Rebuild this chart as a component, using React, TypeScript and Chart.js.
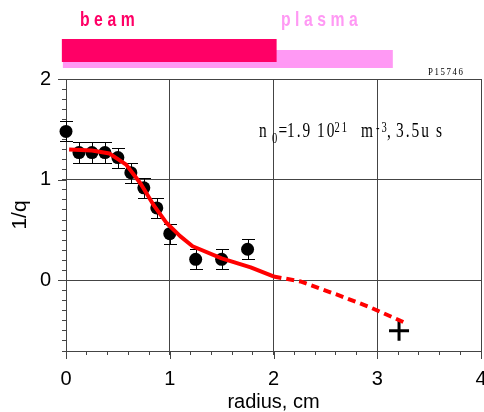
import React, { useEffect, useRef } from 'react';
import { Chart, registerables } from 'chart.js';

Chart.register(...registerables);

// ---- data ----
const radius = [0, 0.125, 0.25, 0.375, 0.5, 0.625, 0.75, 0.875, 1.0, 1.25, 1.5, 1.75];
const invQ = [1.48, 1.27, 1.27, 1.27, 1.22, 1.07, 0.92, 0.72, 0.465, 0.21, 0.21, 0.31];
const invQErr = [0.1, 0.1, 0.1, 0.1, 0.1, 0.1, 0.1, 0.1, 0.1, 0.1, 0.1, 0.1];

const fitX = [0.03, 0.25, 0.42, 0.58, 0.72, 0.85, 0.97, 1.1, 1.22, 1.5, 1.78, 2.0];
const fitY = [1.3, 1.29, 1.26, 1.15, 0.96, 0.74, 0.57, 0.44, 0.34, 0.22, 0.13, 0.04];

const extrapX = [2.0, 2.26, 2.65, 2.94, 3.29];
const extrapY = [0.04, -0.01, -0.155, -0.27, -0.43];

const edgeX = [3.21];
const edgeY = [-0.5];

const beamExtent = [-0.04, 2.03];
const plasmaExtent = [-0.03, 3.15];

const majorX = [0, 1, 2, 3, 4];
const majorY = [0, 1, 2];

const isMajor = (v: number, list: number[]) => list.some((m) => Math.abs(m - v) < 1e-6);

const AXIS = '#444';
const SANS = '"Liberation Sans", Arial, sans-serif';
const SERIF = '"Liberation Serif", "Times New Roman", serif';

function drawSpaced(ctx: CanvasRenderingContext2D, text: string, x: number, y: number, sx: number, spacing: number) {
  for (const ch of text) {
    ctx.save();
    ctx.translate(x, y);
    ctx.scale(sx, 1);
    ctx.fillText(ch, 0, 0);
    ctx.restore();
    x += ctx.measureText(ch).width * sx + spacing;
  }
  return x;
}

const errorBarPlugin = {
  id: 'errorBars',
  beforeDatasetsDraw(chart: any) {
    const meta = chart.getDatasetMeta(2);
    const ys = chart.scales.y;
    const ctx = chart.ctx;
    ctx.save();
    ctx.strokeStyle = '#000';
    ctx.lineWidth = 1;
    meta.data.forEach((el: any, i: number) => {
      const x = Math.round(el.x) + 0.5;
      const yT = Math.round(ys.getPixelForValue(invQ[i] + invQErr[i])) + 0.5;
      const yB = Math.round(ys.getPixelForValue(invQ[i] - invQErr[i])) + 0.5;
      ctx.beginPath();
      ctx.moveTo(x, yT);
      ctx.lineTo(x, yB);
      ctx.moveTo(x - 6.5, yT);
      ctx.lineTo(x + 6.5, yT);
      ctx.moveTo(x - 6.5, yB);
      ctx.lineTo(x + 6.5, yB);
      ctx.stroke();
    });
    ctx.restore();
  },
};

const decorPlugin = {
  id: 'decor',
  afterDraw(chart: any) {
    const ctx: CanvasRenderingContext2D = chart.ctx;
    const xs = chart.scales.x;
    const ys = chart.scales.y;
    const area = chart.chartArea;
    ctx.save();

    // major tick extensions
    ctx.strokeStyle = AXIS;
    ctx.lineWidth = 1;
    ctx.beginPath();
    majorX.forEach((v) => {
      const px = Math.round(xs.getPixelForValue(v)) + 0.5;
      ctx.moveTo(px, area.bottom);
      ctx.lineTo(px, area.bottom + 8);
    });
    majorY.forEach((v) => {
      const py = Math.round(ys.getPixelForValue(v)) + 0.5;
      ctx.moveTo(area.left - 8, py);
      ctx.lineTo(area.left, py);
    });
    ctx.stroke();

    // beam / plasma bars
    const p0 = xs.getPixelForValue(plasmaExtent[0]);
    const p1 = xs.getPixelForValue(plasmaExtent[1]);
    ctx.fillStyle = '#ff99f4';
    ctx.fillRect(p0, 50, p1 - p0, 18);
    const b0 = xs.getPixelForValue(beamExtent[0]);
    const b1 = xs.getPixelForValue(beamExtent[1]);
    ctx.fillStyle = '#ff0066';
    ctx.fillRect(b0, 39, b1 - b0, 23);

    ctx.textAlign = 'left';
    ctx.textBaseline = 'alphabetic';
    ctx.font = 'bold 21px ' + SANS;
    ctx.fillStyle = '#ff0066';
    drawSpaced(ctx, 'beam', 80, 26, 0.75, 4.5);
    ctx.fillStyle = '#ff99f4';
    drawSpaced(ctx, 'plasma', 281, 26, 0.75, 4.5);

    // plot id
    ctx.fillStyle = '#000';
    ctx.font = '11px ' + SERIF;
    drawSpaced(ctx, 'P15746', 428, 75, 0.8, 1.6);

    // annotation
    const main = '22px ' + SERIF;
    const small = '15px ' + SERIF;
    ctx.font = main;
    drawSpaced(ctx, 'n', 259, 136.5, 0.7, 2);
    ctx.font = small;
    drawSpaced(ctx, '0', 272, 143, 0.7, 2);
    ctx.font = main;
    drawSpaced(ctx, '=', 278.5, 136.5, 0.7, 2);
    drawSpaced(ctx, '1.9', 287, 136.5, 0.7, 2);
    drawSpaced(ctx, '10', 317, 136.5, 0.7, 2);
    ctx.font = small;
    drawSpaced(ctx, '21', 334.5, 131.5, 0.7, 2);
    ctx.font = main;
    drawSpaced(ctx, 'm', 361, 136.5, 0.7, 2);
    ctx.font = small;
    drawSpaced(ctx, '-3', 376, 131.5, 0.7, 2);
    ctx.font = main;
    drawSpaced(ctx, ',', 387, 136.5, 0.7, 2);
    drawSpaced(ctx, '3.5u', 396, 136.5, 0.7, 2);
    drawSpaced(ctx, 's', 436, 136.5, 0.7, 2);

    ctx.restore();
  },
};

export default function App() {
  const ref = useRef<HTMLCanvasElement | null>(null);

  useEffect(() => {
    if (!ref.current) return;
    const chart = new Chart(ref.current, {
      type: 'scatter',
      data: {
        datasets: [
          {
            label: 'fit',
            data: fitX.map((x, i) => ({ x, y: fitY[i] })),
            showLine: true,
            borderColor: '#ff0000',
            backgroundColor: '#ff0000',
            borderWidth: 4,
            pointRadius: 0,
            borderJoinStyle: 'round',
            tension: 0,
            clip: false,
          } as any,
          {
            label: 'extrapolation',
            data: extrapX.map((x, i) => ({ x, y: extrapY[i] })),
            showLine: true,
            borderColor: '#ff0000',
            backgroundColor: '#ff0000',
            borderWidth: 4,
            borderDash: [8, 5],
            pointRadius: 0,
            tension: 0,
            clip: false,
          } as any,
          {
            label: '1/q',
            data: radius.map((x, i) => ({ x, y: invQ[i] })),
            pointRadius: 6.5,
            backgroundColor: '#000',
            borderColor: '#000',
            borderWidth: 0,
            clip: false,
          } as any,
          {
            label: 'edge',
            data: edgeX.map((x, i) => ({ x, y: edgeY[i] })),
            pointStyle: 'cross',
            pointRadius: 10,
            borderColor: '#000',
            borderWidth: 3,
            clip: false,
          } as any,
        ],
      },
      options: {
        animation: false,
        responsive: false,
        devicePixelRatio: 1,
        layout: { autoPadding: false, padding: { left: 0, right: 3, top: 79, bottom: 0 } },
        plugins: { legend: { display: false }, tooltip: { enabled: false } },
        scales: {
          x: {
            type: 'linear',
            min: 0,
            max: 4,
            ticks: {
              stepSize: 0.2,
              autoSkip: false,
              maxRotation: 0,
              padding: 12,
              color: '#000',
              font: { family: SANS, size: 20 },
              callback: (v: any) => (isMajor(Number(v), majorX) ? String(Math.round(Number(v))) : ''),
            },
            grid: {
              color: (c: any) => (c.tick && isMajor(c.tick.value, majorX) ? AXIS : 'rgba(0,0,0,0)'),
              tickColor: AXIS,
              tickLength: 4,
              lineWidth: 1,
            },
            border: { color: AXIS, width: 1 },
            title: {
              display: true,
              text: 'radius, cm',
              color: '#000',
              font: { family: SANS, size: 20, lineHeight: 1.0 },
              padding: { top: 0, bottom: 0 },
            },
            afterFit: (s: any) => {
              s.height = 61;
              s.paddingLeft = 0;
              s.paddingRight = 0;
            },
          },
          y: {
            type: 'linear',
            min: -0.7,
            max: 2,
            ticks: {
              stepSize: 0.1,
              autoSkip: false,
              padding: 11,
              color: '#000',
              font: { family: SANS, size: 20 },
              callback: (v: any) => (isMajor(Number(v), majorY) ? String(Math.round(Number(v))) : ''),
            },
            grid: {
              color: (c: any) => (c.tick && isMajor(c.tick.value, majorY) ? AXIS : 'rgba(0,0,0,0)'),
              tickColor: AXIS,
              tickLength: 4,
              lineWidth: 1,
            },
            border: { color: AXIS, width: 1 },
            title: {
              display: true,
              text: '1/q',
              color: '#000',
              font: { family: SANS, size: 21, lineHeight: 1.2 },
              padding: { top: 8, bottom: 0 },
            },
            afterFit: (s: any) => {
              s.width = 66;
              s.paddingTop = 0;
              s.paddingBottom = 0;
            },
          },
        },
      } as any,
      plugins: [errorBarPlugin, decorPlugin],
    });
    return () => chart.destroy();
  }, []);

  return (
    <div style={{ position: 'absolute', left: 0, top: 0, width: 484, height: 412, background: '#fff' }}>
      <canvas ref={ref} width={484} height={412} style={{ width: 484, height: 412, display: 'block' }} />
    </div>
  );
}
